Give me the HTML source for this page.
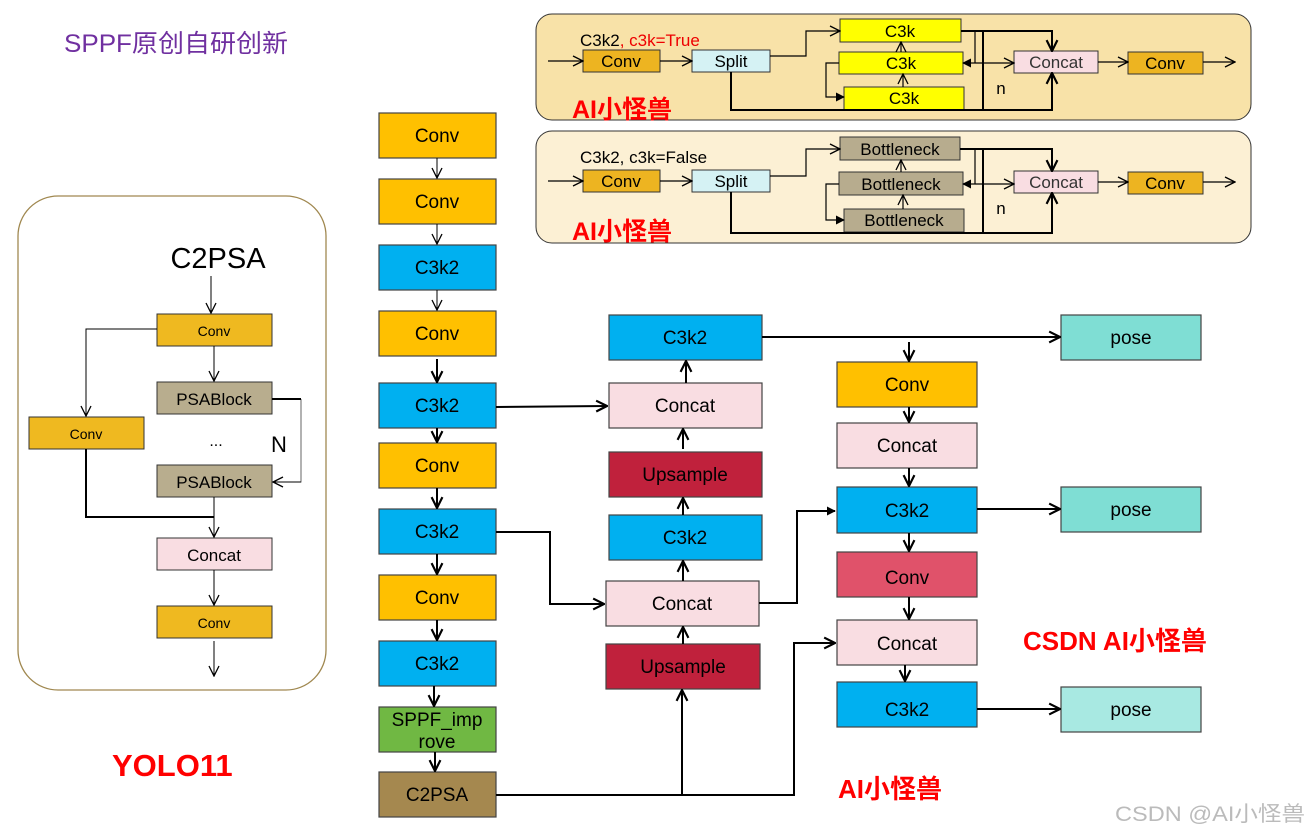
<!DOCTYPE html>
<html><head><meta charset="utf-8"><style>
html,body{margin:0;padding:0;background:#fff;}
svg{display:block;}
text{font-family:"Liberation Sans","Noto Sans CJK SC",sans-serif;}
</style></head><body>
<svg width="1311" height="834" viewBox="0 0 1311 834" xmlns="http://www.w3.org/2000/svg">
<defs>
<marker id="a" viewBox="0 0 12 12" refX="11" refY="6" markerWidth="12" markerHeight="12" markerUnits="userSpaceOnUse" orient="auto"><polyline points="1,1 11,6 1,11" fill="none" stroke="#000" stroke-width="1.3"/></marker>
<marker id="b" viewBox="0 0 12 12" refX="11" refY="6" markerWidth="13" markerHeight="13" markerUnits="userSpaceOnUse" orient="auto"><polyline points="1,1 11,6 1,11" fill="none" stroke="#000" stroke-width="2"/></marker>
<marker id="f" viewBox="0 0 10 10" refX="9" refY="5" markerWidth="9" markerHeight="9" markerUnits="userSpaceOnUse" orient="auto"><polygon points="0,0 10,5 0,10" fill="#000"/></marker>
</defs>

<text x="64" y="52" font-size="25" fill="#7030A0" textLength="224" lengthAdjust="spacingAndGlyphs">SPPF原创自研创新</text>

<rect x="536" y="14" width="715" height="106" rx="16" fill="#F8E2A8" stroke="#333" stroke-width="1"/>
<rect x="536" y="131" width="715" height="112" rx="16" fill="#FCF0D4" stroke="#333" stroke-width="1"/>

<g font-size="17">
<text x="580" y="46">C3k2<tspan fill="#e00">, c3k=True</tspan></text>
<text x="580" y="163">C3k2, c3k=False</text>
</g>
<g font-size="25" font-weight="bold" fill="#f00">
<text x="572" y="118">AI小怪兽</text>
<text x="572" y="240">AI小怪兽</text>
</g>

<g stroke="#333" stroke-width="1">
<rect x="583" y="50" width="77" height="22" fill="#EDB421"/>
<rect x="692" y="50" width="78" height="22" fill="#D5F2F4"/>
<rect x="840" y="19" width="121" height="23" fill="#FFFF00"/>
<rect x="839" y="52" width="124" height="22" fill="#FFFF00"/>
<rect x="844" y="87" width="120" height="23" fill="#FFFF00"/>
<rect x="1014" y="51" width="84" height="22" fill="#F9DDE2"/>
<rect x="1128" y="52" width="75" height="22" fill="#EDB421"/>
<rect x="583" y="170" width="77" height="22" fill="#EDB421"/>
<rect x="692" y="170" width="78" height="22" fill="#D5F2F4"/>
<rect x="840" y="137" width="120" height="23" fill="#B7AC8E"/>
<rect x="839" y="172" width="124" height="23" fill="#B7AC8E"/>
<rect x="844" y="209" width="120" height="23" fill="#B7AC8E"/>
<rect x="1014" y="171" width="84" height="22" fill="#F9DDE2"/>
<rect x="1128" y="172" width="75" height="22" fill="#EDB421"/>
</g>
<g font-size="17" text-anchor="middle">
<text x="621" y="67">Conv</text><text x="731" y="67">Split</text>
<text x="900" y="37">C3k</text><text x="901" y="69">C3k</text><text x="904" y="104">C3k</text>
<text x="1056" y="68" fill="#333">Concat</text><text x="1165" y="69">Conv</text>
<text x="621" y="187">Conv</text><text x="731" y="187">Split</text>
<text x="900" y="155">Bottleneck</text><text x="901" y="190">Bottleneck</text><text x="904" y="226">Bottleneck</text>
<text x="1056" y="188" fill="#333">Concat</text><text x="1165" y="189">Conv</text>
<text x="1001" y="94">n</text><text x="1001" y="214">n</text>
</g>
<g fill="none" stroke="#000" stroke-width="1.2">
<line x1="548" y1="61" x2="583" y2="61" marker-end="url(#a)"/>
<line x1="660" y1="61" x2="692" y2="61" marker-end="url(#a)"/>
<polyline points="770,56 806,56 806,31 840,31" marker-end="url(#a)"/>
<polyline points="839,63 826,63 826,97 844,97" marker-end="url(#f)"/>
<line x1="901" y1="52" x2="901" y2="42" marker-end="url(#a)"/>
<line x1="903" y1="87" x2="903" y2="74" marker-end="url(#a)"/>
<line x1="975" y1="31" x2="975" y2="63"/>
<line x1="975" y1="63" x2="963" y2="63" marker-end="url(#f)"/>
<line x1="975" y1="63" x2="1014" y2="63" marker-end="url(#a)"/>
<line x1="1098" y1="62" x2="1128" y2="62" marker-end="url(#a)"/>
<line x1="1203" y1="62" x2="1235" y2="62" marker-end="url(#a)"/>
<line x1="548" y1="181" x2="583" y2="181" marker-end="url(#a)"/>
<line x1="660" y1="181" x2="692" y2="181" marker-end="url(#a)"/>
<polyline points="770,176 806,176 806,149 840,149" marker-end="url(#a)"/>
<polyline points="839,184 826,184 826,220 844,220" marker-end="url(#f)"/>
<line x1="901" y1="172" x2="901" y2="160" marker-end="url(#a)"/>
<line x1="903" y1="209" x2="903" y2="195" marker-end="url(#a)"/>
<line x1="975" y1="149" x2="975" y2="184"/>
<line x1="975" y1="184" x2="963" y2="184" marker-end="url(#f)"/>
<line x1="975" y1="184" x2="1014" y2="184" marker-end="url(#a)"/>
<line x1="1098" y1="182" x2="1128" y2="182" marker-end="url(#a)"/>
<line x1="1203" y1="182" x2="1235" y2="182" marker-end="url(#a)"/>
</g>
<g fill="none" stroke="#000" stroke-width="2">
<polyline points="961,31 1052,31 1052,51" marker-end="url(#b)"/>
<line x1="983" y1="31" x2="983" y2="110"/>
<polyline points="731,72 731,110 1052,110 1052,73" marker-end="url(#b)"/>
<polyline points="960,149 1052,149 1052,171" marker-end="url(#b)"/>
<line x1="983" y1="149" x2="983" y2="233"/>
<polyline points="731,192 731,233 1052,233 1052,193" marker-end="url(#b)"/>
</g>

<rect x="18" y="196" width="308" height="494" rx="40" fill="#fff" stroke="#A08850" stroke-width="1.3"/>
<text x="218" y="268" font-size="29" text-anchor="middle">C2PSA</text>
<g stroke="#333" stroke-width="1">
<rect x="157" y="314" width="115" height="32" fill="#EFB920"/>
<rect x="157" y="382" width="115" height="32" fill="#B8AD8E"/>
<rect x="29" y="417" width="115" height="32" fill="#EFB920"/>
<rect x="157" y="465" width="115" height="32" fill="#B8AD8E"/>
<rect x="157" y="538" width="115" height="32" fill="#F9DDE2"/>
<rect x="157" y="606" width="115" height="32" fill="#EFB920"/>
</g>
<g text-anchor="middle">
<text x="214" y="336" font-size="14">Conv</text>
<text x="214" y="405" font-size="17">PSABlock</text>
<text x="86" y="439" font-size="14">Conv</text>
<text x="216" y="446" font-size="16">...</text>
<text x="279" y="452" font-size="22">N</text>
<text x="214" y="488" font-size="17">PSABlock</text>
<text x="214" y="561" font-size="17">Concat</text>
<text x="214" y="628" font-size="14">Conv</text>
</g>
<g fill="none" stroke="#000" stroke-width="1">
<line x1="211" y1="276" x2="211" y2="313" marker-end="url(#a)"/>
<polyline points="157,329 86,329 86,416" marker-end="url(#a)"/>
<line x1="214" y1="346" x2="214" y2="381" marker-end="url(#a)"/>
<line x1="214" y1="497" x2="214" y2="537" marker-end="url(#a)"/>
<line x1="214" y1="570" x2="214" y2="605" marker-end="url(#a)"/>
<line x1="214" y1="641" x2="214" y2="676" marker-end="url(#a)"/>
<polyline points="286,482 301,482 301,399" stroke="#666"/>
<line x1="301" y1="482" x2="273" y2="482" marker-end="url(#a)"/>
</g>
<polyline points="272,399 301,399" fill="none" stroke="#000" stroke-width="2"/>
<polyline points="86,449 86,517 214,517" fill="none" stroke="#000" stroke-width="2"/>
<text x="112" y="776" font-size="31" font-weight="bold" fill="#f00">YOLO11</text>

<g stroke="#444" stroke-width="1.2">
<rect x="379" y="113" width="117" height="45" fill="#FFC000"/>
<rect x="379" y="179" width="117" height="45" fill="#FFC000"/>
<rect x="379" y="245" width="117" height="45" fill="#00B0F0"/>
<rect x="379" y="311" width="117" height="45" fill="#FFC000"/>
<rect x="379" y="383" width="117" height="45" fill="#00B0F0"/>
<rect x="379" y="443" width="117" height="45" fill="#FFC000"/>
<rect x="379" y="509" width="117" height="45" fill="#00B0F0"/>
<rect x="379" y="575" width="117" height="45" fill="#FFC000"/>
<rect x="379" y="641" width="117" height="45" fill="#00B0F0"/>
<rect x="379" y="707" width="117" height="45" fill="#70B843"/>
<rect x="379" y="772" width="117" height="45" fill="#A5884F"/>
<rect x="609" y="315" width="153" height="45" fill="#00B0F0"/>
<rect x="609" y="383" width="153" height="45" fill="#F9DDE2"/>
<rect x="609" y="452" width="153" height="45" fill="#C0213C"/>
<rect x="609" y="515" width="153" height="45" fill="#00B0F0"/>
<rect x="606" y="581" width="153" height="45" fill="#F9DDE2"/>
<rect x="606" y="644" width="154" height="45" fill="#C0213C"/>
<rect x="837" y="362" width="140" height="45" fill="#FFC000"/>
<rect x="837" y="423" width="140" height="45" fill="#F9DDE2"/>
<rect x="837" y="487" width="140" height="46" fill="#00B0F0"/>
<rect x="837" y="552" width="140" height="45" fill="#E0526A"/>
<rect x="837" y="620" width="140" height="45" fill="#F9DDE2"/>
<rect x="837" y="682" width="140" height="45" fill="#00B0F0"/>
<rect x="1061" y="315" width="140" height="45" fill="#7FDED4"/>
<rect x="1061" y="487" width="140" height="45" fill="#7FDED4"/>
<rect x="1061" y="687" width="140" height="45" fill="#A8E9E2"/>
</g>
<g font-size="19" text-anchor="middle">
<text x="437" y="142">Conv</text><text x="437" y="208">Conv</text><text x="437" y="274">C3k2</text>
<text x="437" y="340">Conv</text><text x="437" y="412">C3k2</text><text x="437" y="472">Conv</text>
<text x="437" y="538">C3k2</text><text x="437" y="604">Conv</text><text x="437" y="670">C3k2</text>
<text x="437" y="726">SPPF_imp</text><text x="437" y="748">rove</text>
<text x="437" y="801">C2PSA</text>
<text x="685" y="344">C3k2</text><text x="685" y="412">Concat</text><text x="685" y="481">Upsample</text>
<text x="685" y="544">C3k2</text><text x="682" y="610">Concat</text><text x="683" y="673">Upsample</text>
<text x="907" y="391">Conv</text><text x="907" y="452">Concat</text><text x="907" y="517">C3k2</text>
<text x="907" y="584">Conv</text><text x="907" y="650">Concat</text><text x="907" y="716">C3k2</text>
<text x="1131" y="344">pose</text><text x="1131" y="516">pose</text><text x="1131" y="716">pose</text>
</g>
<g fill="none" stroke="#000" stroke-width="1">
<line x1="437" y1="158" x2="437" y2="178" marker-end="url(#a)"/>
<line x1="437" y1="224" x2="437" y2="244" marker-end="url(#a)"/>
<line x1="437" y1="290" x2="437" y2="310" marker-end="url(#a)"/>
</g>
<g fill="none" stroke="#000" stroke-width="2">
<line x1="437" y1="359" x2="437" y2="382" marker-end="url(#b)"/>
<line x1="437" y1="428" x2="437" y2="442" marker-end="url(#b)"/>
<line x1="437" y1="488" x2="437" y2="508" marker-end="url(#b)"/>
<line x1="437" y1="554" x2="437" y2="574" marker-end="url(#b)"/>
<line x1="437" y1="620" x2="437" y2="640" marker-end="url(#b)"/>
<line x1="434" y1="686" x2="434" y2="706" marker-end="url(#b)"/>
<line x1="435" y1="752" x2="435" y2="771" marker-end="url(#b)"/>
<polyline points="496,407 607,406" marker-end="url(#b)"/>
<polyline points="496,532 550,532 550,604 604,604" marker-end="url(#b)"/>
<polyline points="496,795 682,795 682,690" marker-end="url(#b)"/>
<polyline points="682,795 794,795 794,643 835,643" marker-end="url(#b)"/>
<polyline points="759,603 797,603 797,511 835,511" marker-end="url(#f)"/>
<line x1="683" y1="644" x2="683" y2="627" marker-end="url(#b)"/>
<line x1="683" y1="581" x2="683" y2="561" marker-end="url(#b)"/>
<line x1="683" y1="515" x2="683" y2="498" marker-end="url(#b)"/>
<line x1="683" y1="449" x2="683" y2="429" marker-end="url(#b)"/>
<line x1="686" y1="383" x2="686" y2="361" marker-end="url(#b)"/>
<line x1="762" y1="337" x2="1060" y2="337" marker-end="url(#b)"/>
<line x1="909" y1="342" x2="909" y2="361" marker-end="url(#b)"/>
<line x1="909" y1="407" x2="909" y2="422" marker-end="url(#b)"/>
<line x1="909" y1="468" x2="909" y2="486" marker-end="url(#b)"/>
<line x1="909" y1="533" x2="909" y2="551" marker-end="url(#b)"/>
<line x1="909" y1="597" x2="909" y2="619" marker-end="url(#b)"/>
<line x1="905" y1="665" x2="905" y2="681" marker-end="url(#b)"/>
<line x1="977" y1="509" x2="1060" y2="509" marker-end="url(#b)"/>
<line x1="977" y1="709" x2="1060" y2="709" marker-end="url(#b)"/>
</g>
<g font-weight="bold" fill="#f00" font-size="26">
<text x="1023" y="650">CSDN AI小怪兽</text>
<text x="838" y="798">AI小怪兽</text>
</g>
<text x="1115" y="821" font-size="21" fill="#bbb" textLength="190" lengthAdjust="spacingAndGlyphs">CSDN @AI小怪兽</text>
</svg>
</body></html>
